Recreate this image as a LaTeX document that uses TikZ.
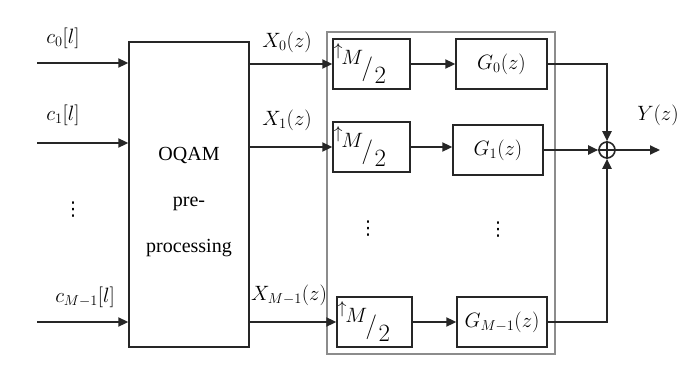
\documentclass[tikz,border=0pt]{standalone}
\usepackage{fontspec}
\setmainfont{Liberation Serif}
\newfontfamily\dejavu{DejaVu Sans}
\usetikzlibrary{arrows.meta}
\newcommand{\upMtwo}[1]{%
  \node[lbl, font=\fontsize{17}{17}\selectfont] (#1a) at ([shift={(6,-13)}]#1.west) {$\uparrow$};
  \node[lbl] (#1m) at ([shift={(20,-7)}]#1.west) {$M$};
  \node[lbl, font=\fontsize{32}{32}\selectfont] (#1s) at ([shift={(35,5)}]#1.west) {$/$};
  \node[lbl, font=\fontsize{23}{23}\selectfont] (#1n) at ([shift={(48,11)}]#1.west) {$2$};
}
\begin{document}
\begin{tikzpicture}[x=1pt,y=-1pt,
  every node/.style={font=\fontsize{20}{24}\selectfont},
  box/.style={draw=black!85, line width=1.4pt, inner sep=0pt, minimum width=#1, minimum height=50pt},
  sig/.style={draw=black!85, line width=2pt, -{Triangle[length=10pt,width=9pt]}},
  lbl/.style={inner sep=0pt},
  dots/.style={inner sep=0pt, font=\dejavu\fontsize{19}{19}\selectfont}]
\useasboundingbox (0,0) rectangle (696,388);
\fill[white] (0,0) rectangle (696,388);
% outer grey frame
\node[draw=black!45, line width=1.1pt, minimum width=228pt, minimum height=322pt, inner sep=0pt] (frame) at (441,193) {};
% OQAM block
\node[draw=black!85, line width=1.4pt, minimum width=120pt, minimum height=305pt, inner sep=0pt] (oqam) at (189,194.5) {};
\node[align=center, font=\fontsize{20}{46}\selectfont] (oqamtxt) at (189,202) {OQAM\\pre-\\processing};
% upsamplers
\node[box=77pt] (up0) at (371.5,64) {};
\node[box=77pt] (up1) at (371.5,147) {};
\node[box=75pt] (up2) at (374.5,322) {};
\upMtwo{up0}
\upMtwo{up1}
\upMtwo{up2}
% filters
\node[box=91pt] (g0) at (501.5,64) {$G_0(z)$};
\node[box=90pt] (g1) at (498,150) {$G_1(z)$};
\node[box=90pt] (g2) at (502,322) {$G_{M-1}(z)$};
% summation
\node[draw=black!85, line width=1.6pt, circle, minimum size=16pt, inner sep=0pt] (sum) at (607,150) {};
\draw[black!85, line width=1.4pt] (sum.north) -- (sum.south) (sum.west) -- (sum.east);
% inputs
\coordinate (in0) at (37,63);
\coordinate (in1) at (37,143);
\coordinate (in2) at (37,322);
\coordinate (yout) at (660,150);
\draw[sig] (in0) -- (in0 -| oqam.west);
\draw[sig] (in1) -- (in1 -| oqam.west);
\draw[sig] (in2) -- (in2 -| oqam.west);
\node[lbl] (c0) at (63,38) {$c_0[l]$};
\node[lbl] (c1) at (63,115) {$c_1[l]$};
\node[lbl] (c2) at (85,297) {$c_{M-1}[l]$};
\node[dots] (d0) at (73,210) {⋮};
% OQAM outputs
\draw[sig] (oqam.east |- up0.west) -- (up0.west);
\draw[sig] (oqam.east |- up1.west) -- (up1.west);
\draw[sig] (oqam.east |- up2.west) -- (up2.west);
\node[lbl] (x0) at (287,42) {$X_0(z)$};
\node[lbl] (x1) at (287,120) {$X_1(z)$};
\node[lbl] (x2) at (289,295) {$X_{M-1}(z)$};
% upsampler to filter
\draw[sig] (up0.east) -- (up0.east -| g0.west);
\draw[sig] (up1.east) -- (up1.east -| g1.west);
\draw[sig] (up2.east) -- (up2.east -| g2.west);
\node[dots] (d1) at (368,229) {⋮};
\node[dots] (d2) at (498,230) {⋮};
% filters to sum
\draw[sig] (g0.east) -| (sum.north);
\draw[sig] (g1.east) -- (sum.west);
\draw[sig] (g2.east) -| (sum.south);
\draw[sig] (sum.east) -- (yout);
\node[lbl] (y) at (658,115) {$Y(z)$};
\end{tikzpicture}
\end{document}
